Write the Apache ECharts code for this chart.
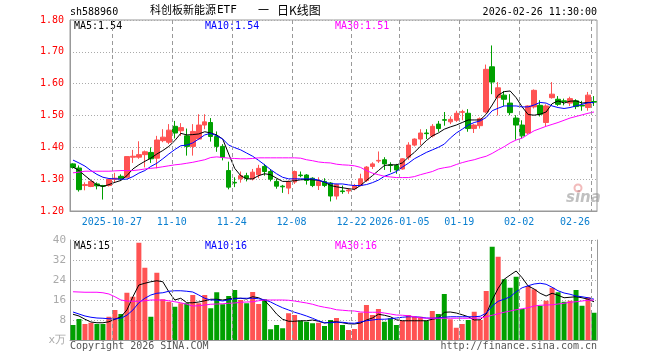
<!DOCTYPE html>
<html><head><meta charset="utf-8">
<script src="https://cdn.jsdelivr.net/npm/echarts@6/dist/echarts.min.js"></script>
<style>html,body{margin:0;padding:0;background:#fff}#c{width:660px;height:360px}</style>
</head><body><div id="c"></div>
<script>
const dates = [
'2025-10-16','2025-10-17','2025-10-20','2025-10-21','2025-10-22','2025-10-23','2025-10-24','2025-10-27','2025-10-28','2025-10-29',
'2025-10-30','2025-10-31','2025-11-03','2025-11-04','2025-11-05','2025-11-06','2025-11-07','2025-11-10','2025-11-11','2025-11-12',
'2025-11-13','2025-11-14','2025-11-17','2025-11-18','2025-11-19','2025-11-20','2025-11-21','2025-11-24','2025-11-25','2025-11-26',
'2025-11-27','2025-11-28','2025-12-01','2025-12-02','2025-12-03','2025-12-04','2025-12-05','2025-12-08','2025-12-09','2025-12-10',
'2025-12-11','2025-12-12','2025-12-15','2025-12-16','2025-12-17','2025-12-18','2025-12-19','2025-12-22','2025-12-23','2025-12-24',
'2025-12-25','2025-12-26','2025-12-29','2025-12-30','2025-12-31','2026-01-05','2026-01-06','2026-01-07','2026-01-08','2026-01-09',
'2026-01-12','2026-01-13','2026-01-14','2026-01-15','2026-01-16','2026-01-19','2026-01-20','2026-01-21','2026-01-22','2026-01-23',
'2026-01-26','2026-01-27','2026-01-28','2026-01-29','2026-01-30','2026-02-02','2026-02-03','2026-02-04','2026-02-05','2026-02-06',
'2026-02-09','2026-02-10','2026-02-11','2026-02-12','2026-02-13','2026-02-24','2026-02-25','2026-02-26'];

const openP = [1.348,1.335,1.280,1.277,1.285,1.280,1.280,1.300,1.309,1.306,
1.369,1.369,1.377,1.384,1.366,1.421,1.416,1.466,1.452,1.436,
1.403,1.426,1.470,1.478,1.434,1.403,1.327,1.290,1.301,1.311,
1.301,1.314,1.340,1.324,1.293,1.278,1.272,1.291,1.313,1.313,
1.303,1.280,1.293,1.288,1.247,1.263,1.263,1.270,1.280,1.296,
1.340,1.357,1.361,1.345,1.343,1.332,1.369,1.407,1.426,1.445,
1.436,1.473,1.487,1.480,1.485,1.510,1.507,1.459,1.468,1.511,
1.653,1.556,1.564,1.539,1.492,1.470,1.445,1.527,1.532,1.478,
1.556,1.551,1.546,1.539,1.546,1.532,1.525,1.544];
const closeP = [1.337,1.267,1.283,1.293,1.279,1.278,1.299,1.303,1.301,1.371,
1.372,1.377,1.386,1.364,1.423,1.432,1.454,1.445,1.462,1.403,
1.450,1.470,1.480,1.434,1.403,1.369,1.275,1.288,1.311,1.303,
1.322,1.334,1.324,1.300,1.278,1.276,1.291,1.324,1.311,1.296,
1.280,1.293,1.280,1.247,1.283,1.261,1.266,1.280,1.301,1.338,
1.348,1.359,1.348,1.343,1.329,1.364,1.407,1.426,1.445,1.443,
1.466,1.459,1.485,1.488,1.507,1.512,1.459,1.470,1.490,1.645,
1.605,1.587,1.551,1.509,1.470,1.436,1.530,1.579,1.504,1.530,
1.567,1.535,1.544,1.553,1.528,1.530,1.564,1.542];
const lowP = [1.333,1.261,1.265,1.275,1.268,1.236,1.277,1.290,1.296,1.303,
1.351,1.364,1.337,1.351,1.334,1.416,1.410,1.428,1.436,1.374,
1.374,1.423,1.457,1.418,1.386,1.359,1.268,1.275,1.289,1.293,
1.296,1.303,1.311,1.293,1.270,1.257,1.253,1.285,1.306,1.283,
1.275,1.266,1.275,1.230,1.236,1.254,1.254,1.265,1.277,1.291,
1.332,1.351,1.329,1.322,1.317,1.330,1.361,1.403,1.407,1.426,
1.431,1.449,1.468,1.473,1.480,1.485,1.449,1.445,1.459,1.507,
1.567,1.500,1.530,1.501,1.424,1.428,1.442,1.522,1.497,1.466,
1.553,1.530,1.532,1.530,1.520,1.515,1.515,1.530];
const highP = [1.350,1.343,1.290,1.295,1.290,1.282,1.301,1.320,1.315,1.371,
1.392,1.419,1.390,1.400,1.436,1.457,1.473,1.483,1.476,1.459,
1.473,1.504,1.504,1.492,1.450,1.410,1.355,1.306,1.324,1.320,
1.332,1.345,1.348,1.332,1.301,1.282,1.296,1.327,1.324,1.316,
1.306,1.306,1.303,1.291,1.286,1.280,1.272,1.285,1.317,1.341,
1.353,1.387,1.369,1.353,1.348,1.366,1.416,1.428,1.457,1.457,
1.473,1.483,1.511,1.497,1.515,1.518,1.520,1.473,1.494,1.660,
1.720,1.605,1.577,1.567,1.501,1.485,1.532,1.582,1.548,1.535,
1.605,1.561,1.553,1.559,1.551,1.546,1.574,1.561];

const ma5P = [1.338,1.327,1.311,1.296,1.282,1.277,1.283,1.290,1.296,1.311,
1.332,1.345,1.356,1.366,1.379,1.390,1.403,1.421,1.444,1.439,
1.440,1.442,1.449,1.445,1.439,1.426,1.379,1.334,1.311,1.301,
1.301,1.311,1.317,1.314,1.303,1.293,1.293,1.295,1.298,1.299,
1.298,1.296,1.291,1.280,1.276,1.273,1.270,1.268,1.280,1.296,
1.311,1.327,1.343,1.345,1.345,1.351,1.369,1.384,1.403,1.421,
1.436,1.445,1.457,1.464,1.470,1.478,1.486,1.486,1.486,1.504,
1.533,1.564,1.575,1.577,1.556,1.527,1.503,1.501,1.504,1.511,
1.537,1.546,1.539,1.545,1.546,1.539,1.541,1.540];
const ma10P = [1.360,1.351,1.341,1.327,1.315,1.306,1.302,1.301,1.300,1.300,
1.308,1.319,1.327,1.340,1.350,1.364,1.379,1.393,1.405,1.407,
1.414,1.426,1.439,1.444,1.436,1.426,1.407,1.399,1.392,1.382,
1.372,1.359,1.345,1.330,1.317,1.306,1.301,1.301,1.301,1.301,
1.301,1.297,1.291,1.286,1.285,1.285,1.282,1.280,1.280,1.283,
1.289,1.297,1.309,1.316,1.324,1.338,1.350,1.364,1.374,1.384,
1.392,1.400,1.410,1.429,1.445,1.457,1.470,1.478,1.483,1.494,
1.515,1.523,1.530,1.530,1.530,1.527,1.527,1.533,1.541,1.539,
1.530,1.525,1.522,1.525,1.530,1.535,1.540,1.541];
const ma30P = [1.320,1.322,1.325,1.325,1.325,1.325,1.325,1.326,1.327,1.327,
1.327,1.329,1.332,1.334,1.336,1.339,1.342,1.345,1.347,1.350,
1.353,1.357,1.361,1.368,1.370,1.368,1.366,1.365,1.364,1.364,
1.365,1.367,1.367,1.367,1.367,1.367,1.367,1.367,1.366,1.361,
1.358,1.354,1.352,1.351,1.347,1.345,1.344,1.342,1.337,1.327,
1.319,1.314,1.309,1.307,1.305,1.305,1.305,1.308,1.314,1.319,
1.324,1.332,1.336,1.339,1.346,1.352,1.357,1.361,1.367,1.372,
1.381,1.392,1.402,1.414,1.423,1.429,1.441,1.452,1.459,1.466,
1.472,1.478,1.485,1.492,1.497,1.502,1.507,1.511];

const vol = [6.0,8.4,6.4,6.9,6.4,6.4,9.3,12.0,10.4,18.9,
17.3,38.9,28.9,9.3,26.9,16.3,15.3,13.3,14.7,14.7,
18.0,14.7,18.0,12.7,19.1,14.3,17.6,20.0,16.0,14.7,
19.2,14.4,16.3,4.3,6.0,4.7,10.7,10.0,7.7,7.3,
6.7,6.9,5.6,8.0,8.8,6.0,4.0,4.4,10.9,14.0,
10.0,12.4,7.3,8.7,6.0,7.7,10.0,9.3,9.3,7.7,
11.6,10.4,18.4,8.3,4.9,6.4,8.0,11.3,8.0,19.6,
37.3,33.3,24.3,20.9,25.3,12.4,21.6,20.3,13.7,15.7,
20.9,19.1,15.3,15.7,20.0,13.7,17.1,10.9];
const ma5V = [10.3,9.6,8.3,7.2,6.9,6.9,7.3,8.3,9.3,12.0,
17.3,22.0,22.7,23.3,23.7,23.3,19.3,16.0,16.7,14.9,
14.9,15.2,15.7,16.3,16.3,16.0,16.4,16.7,16.7,16.4,
17.3,16.9,15.7,13.3,10.4,8.3,7.5,7.5,7.7,7.7,
8.0,7.5,6.8,7.2,7.3,6.9,6.5,6.4,6.8,8.0,
8.8,10.3,9.9,9.3,8.1,7.7,7.7,7.7,7.7,7.7,
8.3,8.7,11.1,11.2,10.8,10.1,9.3,8.0,8.1,10.4,
16.0,20.7,24.3,26.0,27.6,24.9,21.6,20.4,18.7,17.6,
18.7,17.9,16.9,17.1,17.3,16.9,16.3,15.3];
const ma10V = [11.2,10.4,9.6,9.1,8.8,8.7,8.5,8.4,8.7,9.9,
12.0,14.9,16.7,18.0,18.7,18.9,19.5,19.7,19.7,19.5,
19.2,18.0,16.7,16.0,16.0,15.6,16.1,16.5,16.7,16.7,
16.7,16.5,16.1,15.2,14.0,12.9,12.0,11.1,10.4,9.6,
8.7,7.7,6.9,6.9,7.1,7.1,6.8,6.7,7.2,7.7,
8.0,8.3,8.3,8.5,8.8,9.1,9.3,9.3,9.1,8.8,
8.7,8.9,9.1,9.3,9.3,9.3,9.3,9.3,9.5,10.7,
13.6,15.5,16.3,17.3,19.3,20.9,21.7,22.4,22.7,22.3,
21.1,19.7,18.8,18.3,17.6,17.3,16.9,16.3];
const ma30V = [19.3,19.2,19.1,19.1,19.1,18.9,18.4,17.3,16.0,15.6,
15.5,15.5,15.7,16.0,16.0,16.0,15.7,15.3,14.9,14.3,
13.6,13.7,14.0,14.3,14.4,14.5,14.7,14.8,15.1,15.2,
15.3,15.7,16.0,16.0,16.0,16.0,15.9,15.6,15.2,14.8,
14.3,13.6,13.1,12.7,12.1,11.9,11.7,11.6,11.2,11.1,
11.1,11.1,10.8,10.4,10.0,9.9,9.7,9.3,8.9,8.7,
8.7,8.7,8.7,8.7,8.7,8.7,8.7,8.7,8.8,9.3,
9.9,10.5,11.1,11.6,12.1,12.5,12.9,13.6,13.9,14.0,
14.1,14.4,14.7,15.1,15.3,15.6,15.9,16.0];

const tickIdx = [7,17,27,37,47,55,65,75,87];
const tickText = ['2025-10-27','11-10','11-24','12-08','12-22','2026-01-05','01-19','02-02','02-26'];

const UP = '#ff5353', DOWN = '#00a000';
const MONO = 'DejaVu Sans Mono';
const candle = dates.map((d,i)=>[openP[i], closeP[i], lowP[i], highP[i]]);
const volData = vol.map((v,i)=>({value:v, itemStyle:{color: closeP[i] >= openP[i] ? UP : DOWN}}));
const isTick = (i)=>tickIdx.indexOf(i) >= 0;

const chart = echarts.init(document.getElementById('c'));
const hSplit = ()=>({show:true, lineStyle:{color:'#aaa', type:[1,2], width:1}});
const maLine = (name, data, color, xi, yi)=>({name, type:'line', data, xAxisIndex:xi, yAxisIndex:yi, symbol:'none', smooth:false,
  lineStyle:{color, width:1}, itemStyle:{color}, silent:true, z:5});

const baseGraphic = [
  {type:'text', left:70, top:7, style:{text:'sh588960', fontFamily:MONO, fontSize:10, fill:'#000'}},
  {type:'text', left:150, top:4, style:{text:'科创板新能源', fontFamily:'Noto Sans CJK SC', fontSize:11, fill:'#000'}},
  {type:'text', left:217, top:5, style:{text:'ETF', fontFamily:MONO, fontSize:11, fill:'#000'}},
  {type:'text', left:258, top:4, style:{text:'一', fontFamily:'Noto Sans CJK SC', fontSize:11, fill:'#000'}},
  {type:'text', left:277, top:4, style:{text:'日K线图', fontFamily:'Noto Sans CJK SC', fontSize:12, fill:'#000'}},
  {type:'text', right:63, top:7, style:{text:'2026-02-26 11:30:00', fontFamily:MONO, fontSize:10, fill:'#000'}},
  {type:'text', left:74, top:21, style:{text:'MA5:1.54', fontFamily:MONO, fontSize:10, fill:'#000'}},
  {type:'text', left:205, top:21, style:{text:'MA10:1.54', fontFamily:MONO, fontSize:10, fill:'#0000ff'}},
  {type:'text', left:335, top:21, style:{text:'MA30:1.51', fontFamily:MONO, fontSize:10, fill:'#ff00ff'}},
  {type:'text', left:74, top:241, style:{text:'MA5:15', fontFamily:MONO, fontSize:10, fill:'#000'}},
  {type:'text', left:205, top:241, style:{text:'MA10:16', fontFamily:MONO, fontSize:10, fill:'#0000ff'}},
  {type:'text', left:335, top:241, style:{text:'MA30:16', fontFamily:MONO, fontSize:10, fill:'#ff00ff'}},
  {type:'text', left:70, top:341, style:{text:'Copyright 2026 SINA.COM', fontFamily:MONO, fontSize:10, fill:'#555'}},
  {type:'text', right:63, top:341, style:{text:'http://finance.sina.com.cn', fontFamily:MONO, fontSize:10, fill:'#555'}},
  {type:'text', left:566, top:191, style:{text:'sina', fontFamily:'DejaVu Sans', fontSize:15, fontWeight:'bold', fontStyle:'italic', fill:'rgba(150,150,150,0.6)'}},
  {type:'circle', shape:{cx:578, cy:188, r:3.5}, style:{fill:'none', stroke:'rgba(230,120,120,0.5)', lineWidth:2}}
];

chart.setOption({
  animation:false,
  backgroundColor:'#fff',
  grid:[
    {left:70, top:20, width:527, height:191, show:true, borderColor:'#999', borderWidth:1},
    {left:70, top:240, width:527, height:100}
  ],
  xAxis:[
    {type:'category', gridIndex:0, data:dates, boundaryGap:true,
     axisLine:{show:true, lineStyle:{color:'#999'}}, axisTick:{show:false},
     axisLabel:{interval:(i)=>isTick(i), color:'#0a7fd0', fontFamily:MONO, fontSize:10, margin:6,
       formatter:(v,i)=>{const k=tickIdx.indexOf(i); if(k<0) return ''; return k===tickIdx.length-1 ? '{r|'+tickText[k]+'}' : '{c|'+tickText[k]+'}';},
       rich:{c:{padding:[0,6,0,0], color:'#0a7fd0', fontFamily:MONO, fontSize:10}, r:{padding:[0,38,0,0], color:'#0a7fd0', fontFamily:MONO, fontSize:10}}},
     splitLine:{show:false}},
    {type:'category', gridIndex:1, data:dates, boundaryGap:true, position:'top',
     axisLine:{show:true, lineStyle:{color:'#999'}}, axisTick:{show:false}, axisLabel:{show:false},
     splitLine:{show:false}}
  ],
  yAxis:[
    {type:'value', gridIndex:0, min:1.2, max:1.8, interval:0.1,
     axisLine:{show:true, lineStyle:{color:'#999'}}, axisTick:{show:false},
     axisLabel:{color:'#ff0000', fontFamily:MONO, fontSize:10, margin:6, formatter:(v)=>v.toFixed(2)},
     splitLine:hSplit()},
    {type:'value', gridIndex:1, min:0, max:40, interval:8,
     axisLine:{show:true, lineStyle:{color:'#999'}}, axisTick:{show:false},
     axisLabel:{color:'#aaa', fontFamily:MONO, fontSize:11, margin:4, formatter:(v)=> v===0 ? 'x万' : String(v)},
     splitLine:hSplit()},
    {type:'value', gridIndex:1, min:0, max:40, interval:8, position:'right',
     axisLine:{show:true, lineStyle:{color:'#999'}}, axisTick:{show:false}, axisLabel:{show:false}, splitLine:{show:false}}
  ],
  series:[
    {name:'K', type:'candlestick', data:candle, xAxisIndex:0, yAxisIndex:0, barWidth:5,
     itemStyle:{color:UP, color0:DOWN, borderColor:UP, borderColor0:DOWN, borderWidth:1}, silent:true},
    maLine('MA5', ma5P, '#000000', 0, 0),
    maLine('MA10', ma10P, '#0000ff', 0, 0),
    maLine('MA30', ma30P, '#ff00ff', 0, 0),
    {name:'VOL', type:'bar', data:volData, xAxisIndex:1, yAxisIndex:1, barWidth:5, silent:true},
    maLine('VMA5', ma5V, '#000000', 1, 1),
    maLine('VMA10', ma10V, '#0000ff', 1, 1),
    maLine('VMA30', ma30V, '#ff00ff', 1, 1)
  ],
  graphic: baseGraphic
});

// vertical dashed grid lines at the left edge of each labelled date's band, positioned through the axis scale
const c0 = chart.convertToPixel({xAxisIndex:0}, 0);
const c1 = chart.convertToPixel({xAxisIndex:0}, 1);
const halfBand = (c1 - c0) / 2;
const yTop0 = chart.convertToPixel({yAxisIndex:0}, 1.8), yBot0 = chart.convertToPixel({yAxisIndex:0}, 1.2);
const yTop1 = chart.convertToPixel({yAxisIndex:1}, 40), yBot1 = chart.convertToPixel({yAxisIndex:1}, 0);
const gridLines = [];
tickIdx.forEach(i=>{
  const x = Math.round(chart.convertToPixel({xAxisIndex:0}, i) - halfBand) + 0.5;
  [[yTop0, yBot0],[yTop1, yBot1]].forEach(([a,b])=>{
    gridLines.push({type:'line', silent:true, z:10,
      shape:{x1:x, y1:a, x2:x, y2:b},
      style:{stroke:'#999', lineWidth:1, lineDash:[4,3]}});
  });
});
chart.setOption({graphic: baseGraphic.concat(gridLines)});
</script></body></html>
